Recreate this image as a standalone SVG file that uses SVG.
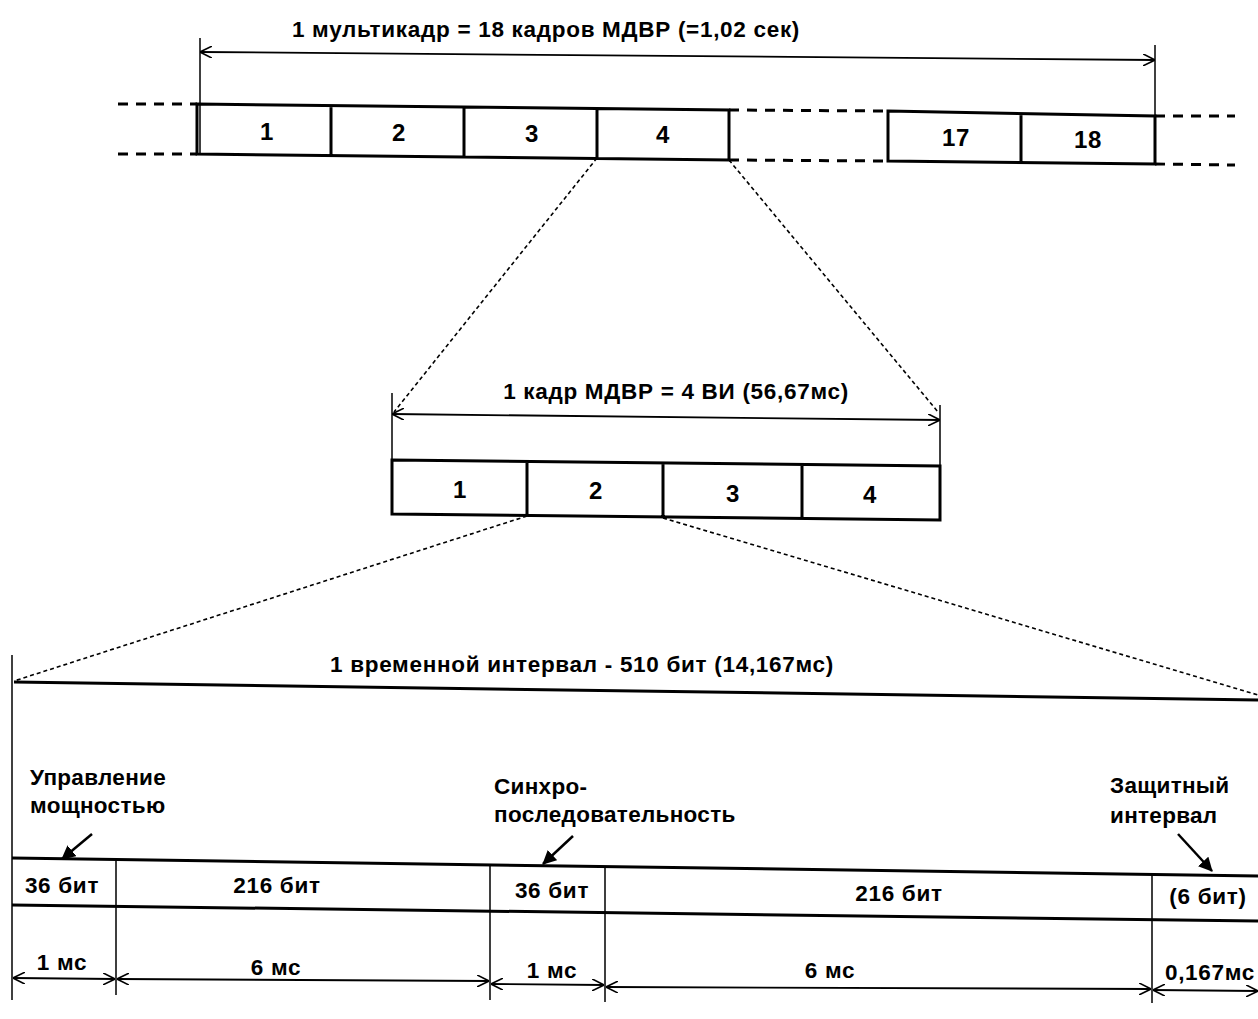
<svg xmlns="http://www.w3.org/2000/svg" width="1258" height="1019" viewBox="0 0 1258 1019">
<defs>
<marker id="ah" viewBox="0 0 12 12" refX="12" refY="6" markerWidth="12" markerHeight="12" markerUnits="userSpaceOnUse" orient="auto-start-reverse">
<path d="M0,0 L12,6 L0,12" fill="none" stroke="#000" stroke-width="1.6"/>
</marker>
<marker id="fa" viewBox="0 0 14 14" refX="13" refY="7" markerWidth="14" markerHeight="14" markerUnits="userSpaceOnUse" orient="auto">
<path d="M0,0 L14,7 L0,14 Z" fill="#000"/>
</marker>
</defs>
<style>
text{font-family:"Liberation Sans",Arial,sans-serif;font-size:22.5px;font-weight:bold;fill:#000;text-anchor:middle;letter-spacing:0.7px}
.l{text-anchor:start;letter-spacing:0.3px}
.n{font-size:24px}
.box{fill:none;stroke:#000;stroke-width:3}
.thin{stroke:#000;stroke-width:1.5;fill:none}
.thick{stroke:#000;stroke-width:3;fill:none}
.dash{stroke:#000;stroke-width:3;fill:none;stroke-dasharray:10,8}
.zd{stroke:#000;stroke-width:1.6;fill:none;stroke-dasharray:4,3}
.dim{stroke:#000;stroke-width:1.8;fill:none;marker-start:url(#ah);marker-end:url(#ah)}
.call{stroke:#000;stroke-width:2.5;fill:none;marker-end:url(#fa)}
</style>
<rect width="1258" height="1019" fill="#fff"/>

<g id="multiframe">
<text x="546" y="37">1 мультикадр = 18 кадров МДВР (=1,02 сек)</text>
<line class="thin" x1="200" y1="38" x2="200" y2="155"/>
<line class="thin" x1="1155" y1="45" x2="1155" y2="165"/>
<line class="dash" x1="118" y1="104" x2="197" y2="104"/>
<line class="dash" x1="118" y1="154" x2="197" y2="154"/>
<line class="dash" x1="729" y1="110" x2="888" y2="111"/>
<line class="dash" x1="729" y1="160" x2="888" y2="161"/>
<line class="dash" x1="1155" y1="116" x2="1235" y2="116"/>
<line class="dash" x1="1155" y1="164" x2="1235" y2="165"/>
<path class="box" d="M197,104 L729,110 L729,160 L197,154 Z M331,105 V155 M464,107 V157 M597,108 V158"/>
<path class="box" d="M888,111 L1155,116 L1155,164 L888,161 Z M1021,113 V162"/>
<text class="n" x="267" y="140">1</text>
<text class="n" x="399" y="141">2</text>
<text class="n" x="532" y="142">3</text>
<text class="n" x="663" y="143">4</text>
<text class="n" x="956" y="146">17</text>
<text class="n" x="1088" y="148">18</text>
</g>

<g id="frame">
<text x="676" y="399">1 кадр МДВР = 4 ВИ (56,67мс)</text>
<line class="thin" x1="392" y1="393" x2="392" y2="460"/>
<line class="thin" x1="940" y1="405" x2="940" y2="466"/>
<path class="box" d="M392,460 L940,466 L940,520 L392,514 Z M527,461 V516 M663,463 V518 M802,464 V519"/>
<text class="n" x="460" y="498">1</text>
<text class="n" x="596" y="499">2</text>
<text class="n" x="733" y="502">3</text>
<text class="n" x="870" y="503">4</text>
</g>

<g id="timeslot">
<text x="582" y="672">1 временной интервал - 510 бит (14,167мс)</text>
<line class="thin" x1="12" y1="655" x2="12" y2="1000"/>
<line class="thick" x1="14" y1="682" x2="1258" y2="700"/>
</g>

<g id="labels">
<text class="l" x="30" y="785">Управление</text>
<text class="l" x="30" y="813">мощностью</text>
<text class="l" x="494" y="794">Синхро-</text>
<text class="l" x="494" y="822">последовательность</text>
<text class="l" x="1110" y="793">Защитный</text>
<text class="l" x="1110" y="823">интервал</text>
</g>

<g id="bits">
<path class="thick" d="M12,858 L1258,876 M12,905 L1258,921"/>
<path class="thin" d="M116,858 V905 M490,864 V912 M605,866 V913 M1152,873 V919"/>
<text x="62" y="893">36 бит</text>
<text x="277" y="893">216 бит</text>
<text x="552" y="898">36 бит</text>
<text x="899" y="901">216 бит</text>
<text x="1208" y="904">(6 бит)</text>
</g>

<g id="durations">
<path class="thin" d="M116,905 V995 M490,912 V1000 M605,913 V1002 M1152,919 V1003"/>
<text x="62" y="970">1 мс</text>
<text x="276" y="975">6 мс</text>
<text x="552" y="978">1 мс</text>
<text x="830" y="978">6 мс</text>
<text x="1210" y="980">0,167мс</text>
</g>

<g id="connectors">
<line class="dim" x1="200" y1="52" x2="1155" y2="60"/>
<line class="dim" x1="392" y1="414" x2="940" y2="420"/>
<line class="zd" x1="597" y1="158" x2="394" y2="412"/>
<line class="zd" x1="729" y1="160" x2="938" y2="412"/>
<line class="zd" x1="527" y1="516" x2="14" y2="681"/>
<line class="zd" x1="663" y1="518" x2="1258" y2="695"/>
<line class="call" x1="92" y1="834" x2="62" y2="859"/>
<line class="call" x1="573" y1="836" x2="543" y2="864"/>
<line class="call" x1="1178" y1="834" x2="1212" y2="871"/>
<line class="dim" x1="13" y1="978" x2="115" y2="979"/>
<line class="dim" x1="117" y1="979" x2="489" y2="981"/>
<line class="dim" x1="491" y1="984" x2="604" y2="985"/>
<line class="dim" x1="606" y1="987" x2="1151" y2="989"/>
<line class="dim" x1="1153" y1="990" x2="1258" y2="991"/>
</g>
</svg>
